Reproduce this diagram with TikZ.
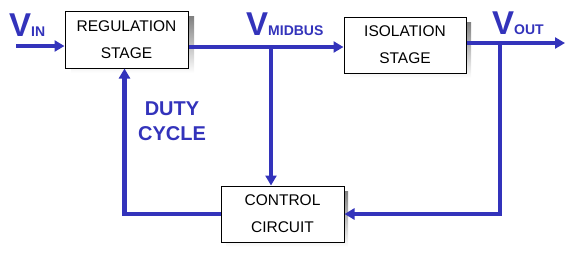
\documentclass[tikz,border=0pt]{standalone}
\usepackage{fontspec}
\setmainfont{Liberation Sans}
\usetikzlibrary{arrows.meta,calc}
\definecolor{vblue}{RGB}{51,51,187}
\definecolor{shade}{RGB}{150,150,150}
\tikzset{
  blockbox/.style={draw=black,line width=1pt,fill=white,minimum width=#1,align=center,
    font=\fontsize{15.5}{27}\selectfont,inner sep=0pt},
  wire/.style={draw=vblue,line width=4.5pt},
  tip/.style={-{Triangle[length=10pt,width=11pt]}},
  vlabel/.style={text=vblue,inner sep=0pt,anchor=base west},
}
\newcommand{\bigV}{{\fontsize{33}{33}\selectfont\bfseries V}}
\newcommand{\subtx}[1]{{\fontsize{14}{14}\selectfont\bfseries #1}}
\begin{document}
\begin{tikzpicture}[x=1pt,y=-1pt]
\useasboundingbox (0,0) rectangle (576,266);
% shadows
\fill[shade] (71,16) rectangle (194,73);
\fill[shade] (350,22) rectangle (471,78);
\fill[shade] (226,191) rectangle (348,247);
% boxes
\node[blockbox=123pt,minimum height=57pt] (reg) at (126.5,39.5) {REGULATION\\STAGE};
\node[blockbox=122pt,minimum height=56pt] (iso) at (405,45) {ISOLATION\\STAGE};
\node[blockbox=123pt,minimum height=56pt] (ctrl) at (282.5,214) {CONTROL\\CIRCUIT};
% coordinates
\coordinate (vin) at (16,46);
\coordinate (mid) at (271,47);
\coordinate (vj) at (500,43);
\coordinate (vout) at (565,43);
% wires
\draw[wire,tip] (vin) -- (vin -| reg.west);
\draw[wire,tip] (reg.east |- mid) -- (iso.west |- mid);
\draw[wire,tip] (mid) -- (mid |- ctrl.north);
\draw[wire,tip] (iso.east |- vj) -- (vout);
\draw[wire,tip] (vj) |- (ctrl.east);
\draw[wire,tip] (ctrl.west) -| ($(reg.south)+(-2,0)$);
% labels
\node[vlabel] (lin) at (9,36) {\bigV\subtx{IN}};
\node[vlabel] (lmid) at (246,35) {\bigV\subtx{MIDBUS}};
\node[vlabel] (lout) at (492,34) {\bigV\subtx{OUT}};
\node[text=vblue,align=center,font=\fontsize{20}{25}\selectfont\bfseries] (duty) at (172,121) {DUTY\\CYCLE};
\end{tikzpicture}
\end{document}
